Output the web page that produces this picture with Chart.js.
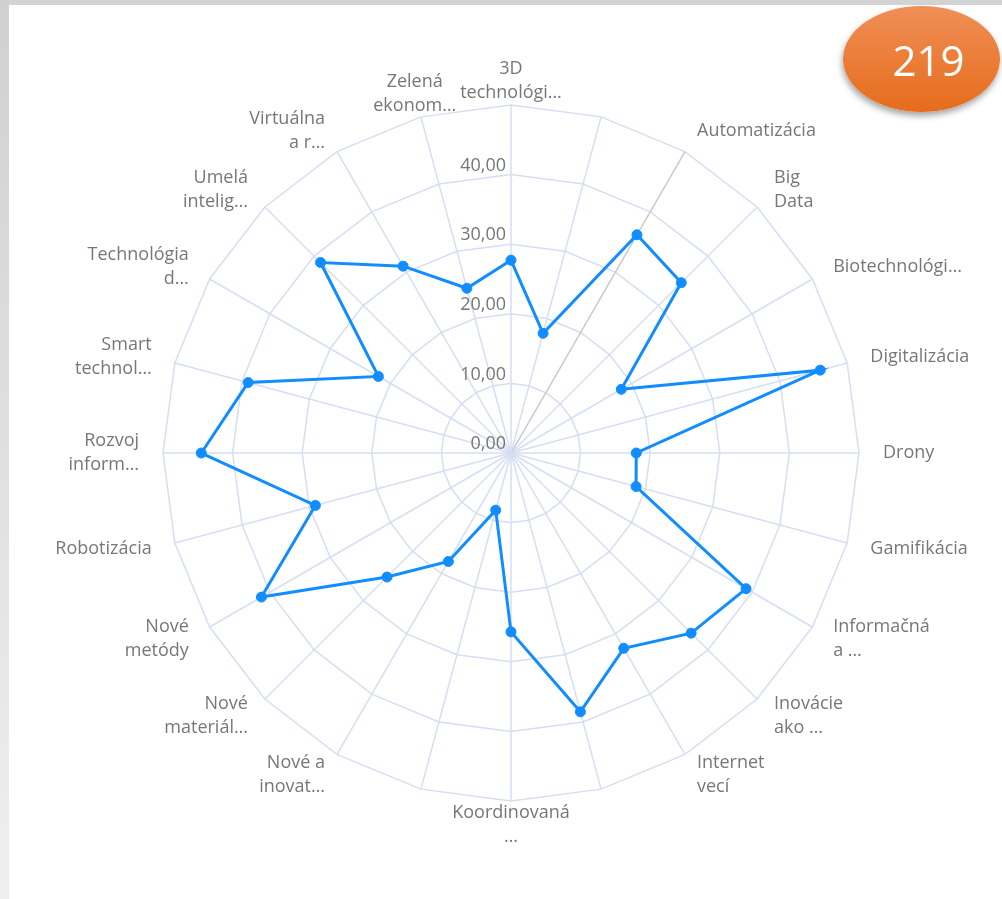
<!DOCTYPE html>
<html>
<head>
<meta charset="utf-8">
<script src="https://cdn.jsdelivr.net/npm/chart.js@4/dist/chart.umd.min.js"></script>
<style>
  html, body { margin: 0; padding: 0; background: #fff; }
  body { width: 1002px; height: 899px; position: relative; overflow: hidden; }
  .barTop { position: absolute; left: 0; top: 0; width: 1002px; height: 5px; background: #d3d3d3; }
  .barLeft { position: absolute; left: 0; top: 0; width: 9px; height: 899px; background: linear-gradient(#d0d0d0, #efefef); }
  #wrap { position: absolute; left: 0; top: 0; width: 1002px; height: 899px; }
  .badge {
    position: absolute; left: 843px; top: 6px; width: 157px; height: 106px;
    border-radius: 50%;
    background: linear-gradient(#f08f57, #e66c1b);
    box-shadow: -1px 4px 6px rgba(0,0,0,0.35);
    color: #fff; font: 42px "Open Sans", sans-serif;
    display: flex; align-items: center; justify-content: center;
    padding-left: 14px; box-sizing: border-box;
  }
</style>
</head>
<body>
<div class="barTop"></div>
<div class="barLeft"></div>
<div id="wrap"><canvas id="radar"></canvas></div>
<div class="badge">219</div>
<script>
// categories clockwise from the top, '' = spoke without a visible label
const categories = [
  ["3D", "technológi…"], [""], ["Automatizácia"], ["Big", "Data"],
  ["Biotechnológi…"], ["Digitalizácia"], ["Drony"], ["Gamifikácia"],
  ["Informačná", "a …"], ["Inovácie", "ako …"], ["Internet", "vecí"], [""],
  ["Koordinovaná", "…"], [""], ["Nové a", "inovat…"], ["Nové", "materiál…"],
  ["Nové", "metódy"], ["Robotizácia"], ["Rozvoj", "inform…"], ["Smart", "technol…"],
  ["Technológia", "d…"], ["Umelá", "intelig…"], ["Virtuálna", "a r…"], ["Zelená", "ekonom…"]
];
const values = [27.7, 17.8, 36.2, 34.6, 18.3, 46.0, 18.0, 18.6, 39.0, 36.6, 32.4, 38.5,
  25.7, 8.5, 18.0, 25.2, 41.4, 29.1, 44.5, 39.1, 22.0, 38.7, 31.0, 24.5];
const tickValues = [0, 10, 20, 30, 40, 50];

const blue = "#118dff";
const gridColor = "#d5def2";
const textColor = "#777";
const labelFont = '18px "Open Sans", sans-serif';

function fmt(v) {
  return v.toFixed(2).replace(".", ",");
}

// power bi style labels: centered on the spoke end, aligned by side
const pbiLabels = {
  id: "pbiLabels",
  beforeDatasetsDraw(chart) {
    const r = chart.scales.r;
    const ctx = chart.ctx;
    ctx.save();
    ctx.font = labelFont;
    ctx.fillStyle = textColor;
    ctx.textBaseline = "middle";
    ctx.textAlign = "right";
    r.ticks.forEach((t) => {
      if (t.value >= r.max) return;
      const y = r.yCenter - r.getDistanceFromCenterForValue(t.value);
      ctx.fillText(fmt(t.value), r.xCenter - 5, y - 9);
    });
    const lh = 24;
    const dist = r.drawingArea + 24;
    categories.forEach((lines, i) => {
      const p = r.getPointPosition(i, dist);
      const dx = (p.x - r.xCenter) / dist;
      ctx.textAlign = Math.abs(dx) < 0.3 ? "center" : dx > 0 ? "left" : "right";
      const y0 = p.y - ((lines.length - 1) * lh) / 2;
      lines.forEach((s, k) => ctx.fillText(s, p.x, y0 + k * lh));
    });
    ctx.restore();
  },
};

const chart = new Chart(document.getElementById("radar"), {
  type: "radar",
  data: {
    labels: categories.map((l) => l.join(" ")),
    datasets: [
      {
        data: values,
        borderColor: blue,
        backgroundColor: blue,
        borderWidth: 3,
        fill: false,
        pointRadius: 5,
        pointBorderWidth: 1,
        pointBackgroundColor: blue,
        pointBorderColor: blue,
      },
    ],
  },
  options: {
    responsive: true,
    maintainAspectRatio: false,
    animation: false,
    layout: { padding: { top: 105, bottom: 98, left: 120, right: 100 } },
    plugins: {
      legend: { display: false },
      tooltip: { enabled: false },
    },
    scales: {
      r: {
        min: tickValues[0],
        max: tickValues[tickValues.length - 1],
        ticks: { display: false, stepSize: 10 },
        pointLabels: { display: false },
        grid: { color: gridColor, lineWidth: 1.5 },
        angleLines: {
          color: (c) => (c.index === 2 ? "#cacaca" : gridColor),
          lineWidth: 1.5,
        },
      },
    },
  },
  plugins: [pbiLabels],
});
</script>
</body>
</html>
